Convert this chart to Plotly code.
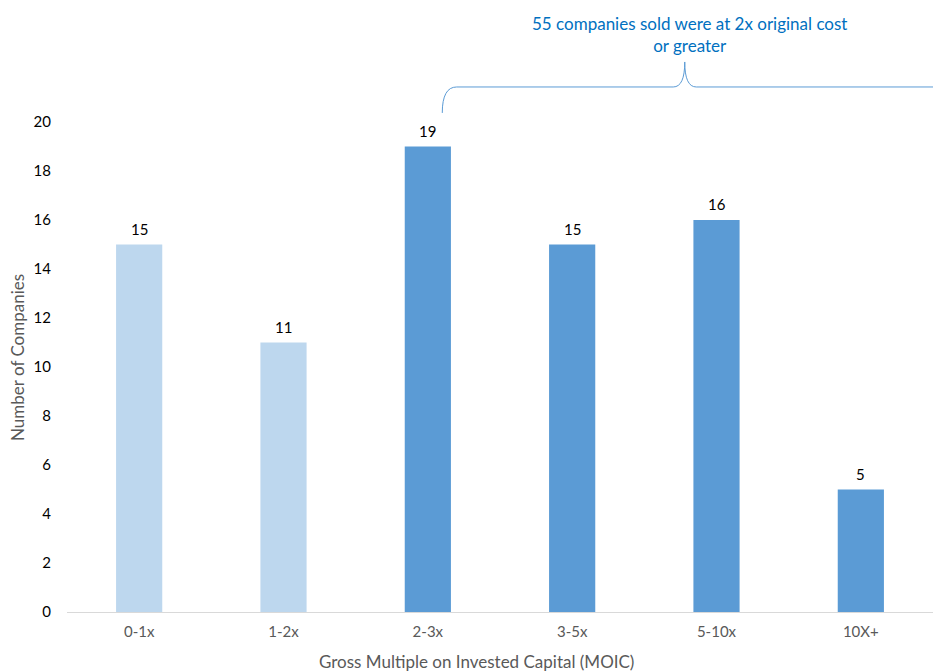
import plotly.graph_objects as go

categories = ["0-1x", "1-2x", "2-3x", "3-5x", "5-10x", "10X+"]
counts = [15, 11, 19, 15, 16, 5]
bar_colors = ["#BDD7EE", "#BDD7EE", "#5B9BD5", "#5B9BD5", "#5B9BD5", "#5B9BD5"]
y_ticks = [0, 2, 4, 6, 8, 10, 12, 14, 16, 18, 20]
note_text = "55 companies sold were at 2x original cost<br>or greater"
x_title = "Gross Multiple on Invested Capital (MOIC)"
y_title = "Number of Companies"

xs = list(range(len(categories)))

fig = go.Figure()
fig.add_trace(go.Bar(
    x=xs, y=counts, width=0.32,
    marker=dict(color=bar_colors, line=dict(width=0)),
    hoverinfo="x+y",
))

for xi, c in zip(xs, counts):
    fig.add_annotation(x=xi, y=c, xref="x", yref="y", text=str(c),
                       showarrow=False, yanchor="bottom", yshift=5,
                       font=dict(family="Lato", size=15, color="#000000"))

# curly brace over 2-3x .. 10X+
yb = 21.43
path = (f"M 2.1,20.37 Q 2.1,{yb} 2.2,{yb} L 3.70,{yb} "
        f"Q 3.78,{yb} 3.78,22.45 Q 3.78,{yb} 3.86,{yb} L 5.5,{yb}")
fig.add_shape(type="path", path=path, xref="x", yref="y",
              line=dict(color="#5B9BD5", width=1))

fig.add_annotation(x=3.81, y=23.57, xref="x", yref="y", text=note_text,
                   showarrow=False, yanchor="middle",
                   font=dict(family="Lato", size=17, color="#0070C0"))

fig.add_annotation(x=0.4734, y=-0.062, xref="paper", yref="paper",
                   text=x_title, showarrow=False, yanchor="top",
                   font=dict(family="Lato", size=17, color="#595959"))
fig.add_annotation(x=-0.0566, y=0.4236, xref="paper", yref="paper",
                   text=y_title, showarrow=False, textangle=-90,
                   xanchor="center", yanchor="middle",
                   font=dict(family="Lato", size=17, color="#595959"))

fig.update_layout(
    width=933, height=671,
    margin=dict(l=67, r=0, t=10, b=59),
    paper_bgcolor="white", plot_bgcolor="white",
    showlegend=False,
    xaxis=dict(range=[-0.5, 5.5], tickvals=xs, ticktext=categories,
               showgrid=False, zeroline=False, showline=True,
               linecolor="#D9D9D9", linewidth=1, ticks="",
               ticklabelstandoff=6,
               tickfont=dict(family="Lato", size=15, color="#595959")),
    yaxis=dict(range=[0, 602 / 24.5], tickvals=y_ticks,
               showgrid=False, zeroline=False, showline=False, ticks="",
               ticklabelstandoff=15,
               tickfont=dict(family="Lato", size=15, color="#000000")),
)

fig.write_html("out.html")
